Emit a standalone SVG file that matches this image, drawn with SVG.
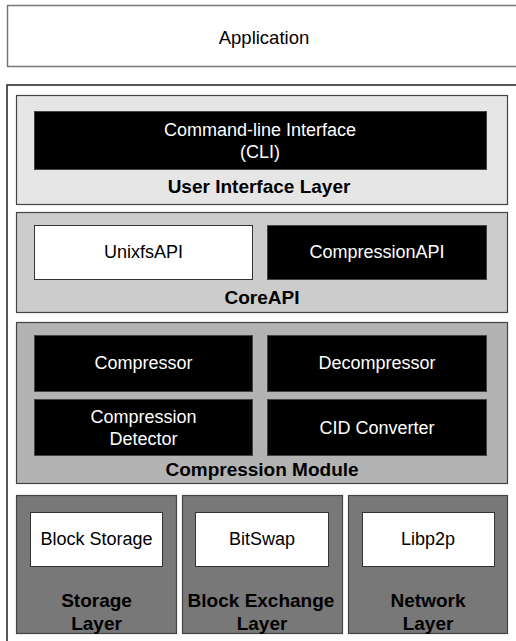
<svg xmlns="http://www.w3.org/2000/svg" width="516" height="641" viewBox="0 0 516 641">
<style>
text{font-family:"Liberation Sans",Arial,sans-serif;text-anchor:middle}
.t{font-size:18px;fill:#000}
.w{font-size:18px;fill:#fff}
.b{font-size:19px;font-weight:bold;fill:#000}
.blk{fill:#000;stroke:#444;stroke-width:1}
.wht{fill:#fff;stroke:#333;stroke-width:1}
.panel{stroke:#444;stroke-width:1.2}
</style>
<rect width="516" height="641" fill="#fff"/>
<g id="application">
<rect x="7.5" y="5.5" width="512" height="61" fill="#fff" stroke="#777" stroke-width="1.5"/>
<text class="t" x="264" y="44" style="font-size:18.5px">Application</text>
</g>
<g id="system">
<rect x="7" y="85" width="515" height="570" fill="#fff" stroke="#222" stroke-width="1.5"/>
</g>
<g id="ui-layer">
<rect class="panel" x="16.5" y="95.5" width="491" height="109" fill="#e6e6e6"/>
<text class="b" x="259" y="193">User Interface Layer</text>
</g>
<g id="cli">
<rect class="blk" x="34.5" y="111.5" width="452" height="58"/>
<text class="w" x="260" y="136">Command-line Interface</text>
<text class="w" x="260" y="158">(CLI)</text>
</g>
<g id="coreapi">
<rect class="panel" x="16.5" y="212.5" width="491" height="100" fill="#cccccc"/>
<text class="b" x="262" y="304">CoreAPI</text>
</g>
<g id="unixfsapi">
<rect class="wht" x="34.5" y="225.5" width="218" height="54"/>
<text class="t" x="143.5" y="258">UnixfsAPI</text>
</g>
<g id="compressionapi">
<rect class="blk" x="267.5" y="225.5" width="219" height="54"/>
<text class="w" x="377" y="258">CompressionAPI</text>
</g>
<g id="compression-module">
<rect class="panel" x="16.5" y="322.5" width="491" height="161" fill="#b3b3b3"/>
<text class="b" x="262" y="476">Compression Module</text>
</g>
<g id="compressor">
<rect class="blk" x="34.5" y="335.5" width="218" height="56"/>
<text class="w" x="143.5" y="369">Compressor</text>
</g>
<g id="decompressor">
<rect class="blk" x="267.5" y="335.5" width="219" height="56"/>
<text class="w" x="377" y="369">Decompressor</text>
</g>
<g id="compression-detector">
<rect class="blk" x="34.5" y="399.5" width="218" height="56"/>
<text class="w" x="143.5" y="423">Compression</text>
<text class="w" x="143.5" y="445">Detector</text>
</g>
<g id="cid-converter">
<rect class="blk" x="267.5" y="399.5" width="219" height="56"/>
<text class="w" x="377" y="434">CID Converter</text>
</g>
<g id="storage-layer">
<rect class="panel" x="16.5" y="495.5" width="160" height="138" fill="#787878"/>
<text class="b" x="96.5" y="607">Storage</text>
<text class="b" x="96.5" y="630">Layer</text>
</g>
<g id="block-storage">
<rect class="wht" x="30.5" y="512.5" width="132" height="54"/>
<text class="t" x="96.5" y="545">Block Storage</text>
</g>
<g id="block-exchange-layer">
<rect class="panel" x="182.5" y="495.5" width="160" height="138" fill="#787878"/>
<text class="b" x="261" y="607">Block Exchange</text>
<text class="b" x="262" y="630">Layer</text>
</g>
<g id="bitswap">
<rect class="wht" x="195.5" y="512.5" width="133" height="54"/>
<text class="t" x="262" y="545">BitSwap</text>
</g>
<g id="network-layer">
<rect class="panel" x="348.5" y="495.5" width="159" height="138" fill="#787878"/>
<text class="b" x="428" y="607">Network</text>
<text class="b" x="428" y="630">Layer</text>
</g>
<g id="libp2p">
<rect class="wht" x="362.5" y="512.5" width="132" height="54"/>
<text class="t" x="428" y="545">Libp2p</text>
</g>
<g id="connectors"></g>
</svg>
